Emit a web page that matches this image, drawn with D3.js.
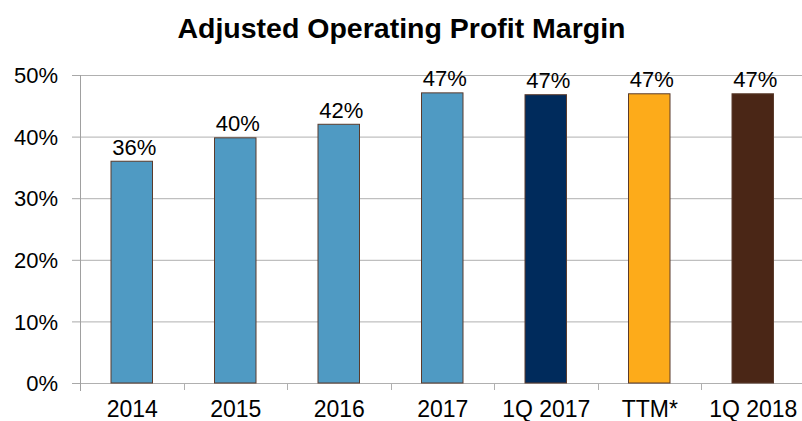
<!DOCTYPE html>
<html>
<head>
<meta charset="utf-8">
<script src="https://cdn.jsdelivr.net/npm/d3@7"></script>
<style>
  body { margin: 0; background: #fff; }
  svg { display: block; }
</style>
</head>
<body>
<div class="margin_chart"></div>
<script>
// Chart data
var categories = ["2014", "2015", "2016", "2017", "1Q 2017", "TTM*", "1Q 2018"];
var values = [36, 39.8, 42, 47.1, 46.8, 46.95, 46.95];
var labels = ["36%", "40%", "42%", "47%", "47%", "47%", "47%"];
var barColors = ["#4f9ac3", "#4f9ac3", "#4f9ac3", "#4f9ac3", "#002b5c", "#fdab1a", "#4a2616"];
var yTicks = [0, 10, 20, 30, 40, 50];

var W = 802, H = 421;
var margin = {top: 75, right: -2.5, bottom: 38, left: 80},
width = W - margin.left - margin.right,
height = H - margin.top - margin.bottom;

var font = "'Liberation Sans', Arial, sans-serif";

var svg = d3.select(".margin_chart")
  .append("svg")
  .attr("width", W)
  .attr("height", H);

// Title
svg.append("text")
  .attr("x", 401.5)
  .attr("y", 38)
  .style("font-family", font)
  .style("font-size", "28.5px")
  .style("font-weight", "bold")
  .style("text-anchor", "middle")
  .attr("fill", "#000")
  .text("Adjusted Operating Profit Margin");

var g = svg.append("g")
  .attr("transform", "translate(" + margin.left + "," + margin.top + ")");

var y = d3.scaleLinear()
  .domain([0, 50])
  .range([height, 0]);

var x = d3.scaleBand()
  .domain(categories)
  .range([0, width])
  .paddingInner(0)
  .paddingOuter(0);

// Y axis with gridlines
g.append("g")
  .attr("class", "y-axis")
  .call(d3.axisLeft(y).tickValues(yTicks).tickSize(8).tickFormat(d => d + "%"))
  .call(a => a.select(".domain").remove())
  .call(a => a.selectAll(".tick line").attr("stroke", "#a8a8a8"))
  .call(a => a.selectAll(".tick line").clone()
    .attr("x1", 0)
    .attr("x2", width)
    .attr("stroke", "#b0b0b0"))
  .call(a => a.selectAll(".tick text")
    .attr("x", -22)
    .attr("dy", "0.35em")
    .style("font-family", font)
    .style("font-size", "22px")
    .attr("fill", "#000"));

// Vertical axis line
g.append("line")
  .attr("x1", 0.5).attr("x2", 0.5)
  .attr("y1", 0).attr("y2", height + 8)
  .attr("stroke", "#a0a0a0");

// X axis: tick marks at band boundaries
var xAxis = g.append("g")
  .attr("transform", "translate(0," + height + ")");

xAxis.selectAll("line.sep")
  .data(categories.slice(1))
  .enter().append("line")
  .attr("class", "sep")
  .attr("x1", d => Math.round(x(d)) + 0.5)
  .attr("x2", d => Math.round(x(d)) + 0.5)
  .attr("y1", 0)
  .attr("y2", 7)
  .attr("stroke", "#b0b0b0");

xAxis.selectAll("text")
  .data(categories)
  .enter().append("text")
  .attr("x", d => x(d) + x.bandwidth() / 2 + 0.5)
  .attr("y", 34)
  .style("font-family", font)
  .style("font-size", "23px")
  .style("text-anchor", "middle")
  .attr("fill", "#000")
  .text(d => d);

// Bars
var barW = 41.5;
g.selectAll(".bar")
  .data(categories)
  .enter().append("rect")
  .attr("class", "bar")
  .attr("x", (d, i) => x(d) + (x.bandwidth() - barW) / 2)
  .attr("y", (d, i) => y(values[i]))
  .attr("width", barW)
  .attr("height", (d, i) => height - y(values[i]))
  .attr("fill", (d, i) => barColors[i])
  .attr("stroke", "#5a3b2c")
  .attr("stroke-width", 1);

// Value labels
g.selectAll(".label")
  .data(categories)
  .enter().append("text")
  .attr("class", "label")
  .attr("x", d => x(d) + x.bandwidth() / 2 + 2.5)
  .attr("y", (d, i) => y(values[i]) - 6.5)
  .style("font-family", font)
  .style("font-size", "22px")
  .style("text-anchor", "middle")
  .attr("fill", "#000")
  .text((d, i) => labels[i]);
</script>
</body>
</html>
